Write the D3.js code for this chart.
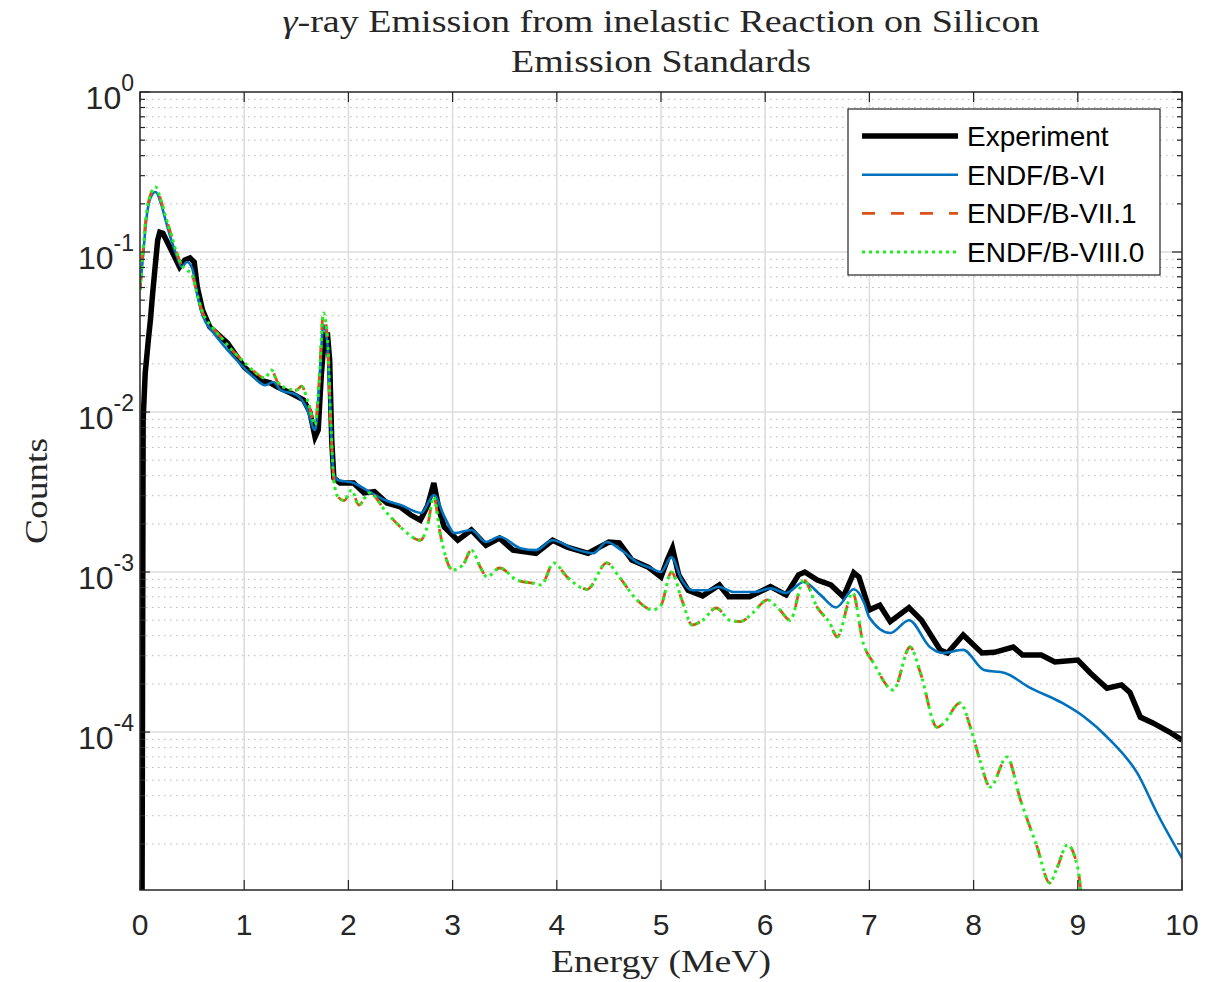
<!DOCTYPE html>
<html>
<head>
<meta charset="utf-8">
<script src="https://cdn.jsdelivr.net/npm/d3@7"></script>
<style>
  body { margin: 0; background: #fff; }
  svg { display: block; }
</style>
</head>
<body>
<svg id="chart" width="1220" height="982"></svg>
<script>
// Experiment (black)
let expEnergy = [0.00, 0.02, 0.03, 0.05, 0.08, 0.10, 0.12, 0.145, 0.17, 0.19, 0.22, 0.30, 0.38, 0.43, 0.48, 0.52, 0.55, 0.60, 0.67, 0.84,
  1.00, 1.15, 1.25, 1.32, 1.45, 1.57, 1.63, 1.68, 1.71, 1.74, 1.77, 1.80, 1.82, 1.84, 1.86, 1.92,
  2.05, 2.15, 2.25, 2.37, 2.50, 2.60, 2.69, 2.76, 2.82, 2.87, 2.92, 3.05, 3.18, 3.32, 3.45, 3.58, 3.80, 3.96,
  4.10, 4.30, 4.50, 4.60, 4.72, 4.88, 5.00, 5.06, 5.11, 5.17, 5.26, 5.40, 5.56, 5.65, 5.85, 6.05, 6.20, 6.32,
  6.38, 6.50, 6.63, 6.75, 6.85, 6.90, 7.00, 7.10, 7.20, 7.38, 7.50, 7.68, 7.75, 7.90, 8.08, 8.20, 8.38, 8.47,
  8.65, 8.78, 9.00, 9.12, 9.28, 9.42, 9.50, 9.60, 9.72, 9.88, 10.0];
let expCounts = [1.05e-5, 1.05e-5, 8.9e-3, 0.0175, 0.0282, 0.0376, 0.0539, 0.0806, 0.119, 0.133, 0.131, 0.103, 0.0806, 0.0891, 0.0917, 0.0866, 0.0604, 0.0434, 0.034, 0.027,
  0.0191, 0.0158, 0.0152, 0.0143, 0.0131, 0.0119, 0.0100, 0.00698, 0.0077, 0.0170, 0.0303, 0.0303, 0.0211, 0.00668, 0.00387, 0.0036,
  0.0036, 0.00312, 0.00318, 0.0027, 0.00255, 0.00227, 0.00211, 0.0026, 0.0036, 0.00245, 0.00191, 0.00158, 0.00183, 0.00147, 0.00163, 0.00137, 0.00131, 0.00158,
  0.00143, 0.00131, 0.00154, 0.00152, 0.00119, 0.00107, 0.00093, 0.00119, 0.00141, 0.00096, 0.00077, 0.00071, 0.00083, 0.00070, 0.00070, 0.00081, 0.00072, 0.00096,
  0.00100, 0.00089, 0.00083, 0.00070, 0.00099, 0.00093, 0.00058, 0.00062, 0.00049, 0.00060, 0.00050, 0.000326, 0.000312, 0.000404, 0.000312, 0.000315, 0.00034, 0.000303,
  0.000303, 0.000274, 0.000282, 0.000234, 0.000188, 0.000197, 0.000177, 0.000124, 0.000114, 0.000100, 0.0000891];

// ENDF/B-VI (blue)
let b6Energy = [0.00, 0.03, 0.06, 0.10, 0.15, 0.20, 0.25, 0.30, 0.35, 0.40, 0.45, 0.50, 0.55, 0.60, 0.70, 0.80, 0.90,
  1.00, 1.10, 1.20, 1.28, 1.35, 1.50, 1.60, 1.68, 1.72, 1.76, 1.80, 1.83, 1.86, 1.90,
  2.05, 2.20, 2.35, 2.50, 2.70, 2.82, 2.92, 3.02, 3.18, 3.32, 3.45, 3.65, 3.80, 3.96,
  4.15, 4.35, 4.48, 4.62, 4.78, 4.90, 5.00, 5.10, 5.20, 5.30, 5.45, 5.55, 5.70, 5.90,
  6.05, 6.20, 6.37, 6.53, 6.68, 6.85, 6.95, 7.00, 7.20, 7.38, 7.58, 7.70, 7.90,
  8.10, 8.30, 8.53, 8.85, 9.05, 9.31, 9.57, 9.76, 10.0];
let b6Counts = [0.0579, 0.0958, 0.158, 0.2175, 0.237, 0.202, 0.154, 0.119, 0.0958, 0.0806, 0.0866, 0.0794, 0.0539, 0.0404, 0.0316, 0.0262, 0.0221,
  0.0188, 0.0163, 0.0147, 0.0154, 0.0137, 0.0128, 0.0106, 0.00772, 0.0147, 0.035, 0.0262, 0.0089, 0.00404, 0.00376,
  0.0036, 0.00318, 0.00282, 0.00262, 0.00234, 0.00303, 0.00223, 0.00175, 0.00183, 0.00154, 0.00166, 0.00141, 0.00137, 0.00158,
  0.00141, 0.00131, 0.00154, 0.00137, 0.00114, 0.00106, 0.00100, 0.00124, 0.00089, 0.00077, 0.00077, 0.00081, 0.00075, 0.00075,
  0.00079, 0.00074, 0.000866, 0.00072, 0.00060, 0.00078, 0.00064, 0.00052, 0.000416, 0.00050, 0.00034, 0.000312, 0.000326,
  0.000244, 0.000234, 0.000191, 0.000152, 0.000126, 0.0000891, 0.0000555, 0.0000312, 0.0000163];

// ENDF/B-VII.1 (red dashed) and ENDF/B-VIII.0 (green dotted) lie on top of each other
let b71Energy = [0.00, 0.03, 0.06, 0.10, 0.15, 0.20, 0.25, 0.30, 0.35, 0.40, 0.45, 0.50, 0.55, 0.60, 0.70, 0.80, 0.90,
  1.00, 1.10, 1.20, 1.26, 1.32, 1.40, 1.50, 1.55, 1.62, 1.68, 1.72, 1.76, 1.80, 1.83, 1.86, 1.90, 1.96,
  2.03, 2.10, 2.20, 2.37, 2.50, 2.69, 2.76, 2.82, 2.88, 3.00, 3.10, 3.18, 3.27, 3.33, 3.45, 3.62, 3.78, 3.85, 3.97,
  4.10, 4.29, 4.48, 4.60, 4.77, 4.92, 5.00, 5.10, 5.20, 5.30, 5.40, 5.53, 5.66, 5.76, 5.88,
  6.02, 6.14, 6.24, 6.37, 6.50, 6.62, 6.69, 6.84, 6.94, 7.04, 7.23, 7.39, 7.49, 7.65, 7.71, 7.87, 7.97,
  8.06, 8.16, 8.32, 8.45, 8.61, 8.73, 8.80, 8.90, 9.00, 9.03];
let b71Counts = [0.058, 0.103, 0.17, 0.227, 0.255, 0.211, 0.163, 0.128, 0.100, 0.083, 0.0772, 0.0718, 0.0539, 0.0422, 0.0335, 0.0282, 0.0237,
  0.0205, 0.0178, 0.0163, 0.0183, 0.0154, 0.0141, 0.0137, 0.0145, 0.0111, 0.0083, 0.0158, 0.0416, 0.0282, 0.0089, 0.00376, 0.00294, 0.0028,
  0.00325, 0.00262, 0.00312, 0.00234, 0.00191, 0.00158, 0.00196, 0.00294, 0.00175, 0.00103, 0.00111, 0.00137, 0.00106, 0.00093, 0.00106, 0.00089, 0.00085, 0.00083, 0.00114,
  0.00093, 0.00078, 0.00114, 0.00093, 0.000668, 0.00058, 0.00062, 0.00100, 0.00067, 0.000467, 0.00050, 0.000596, 0.00050, 0.00049, 0.000555,
  0.00067, 0.00058, 0.00050, 0.00089, 0.00060, 0.00048, 0.000393, 0.00074, 0.00036, 0.00027, 0.000183, 0.00034, 0.000234, 0.000107, 0.000113, 0.000152, 0.000107,
  0.0000668, 0.0000453, 0.0000698, 0.0000376, 0.0000191, 0.0000114, 0.0000141, 0.0000197, 0.0000141, 0.0000100];
let b80Energy = b71Energy.slice();
let b80Counts = b71Counts.slice();

let seriesNames = ["Experiment", "ENDF/B-VI", "ENDF/B-VII.1", "ENDF/B-VIII.0"];
let xTicks = [0, 1, 2, 3, 4, 5, 6, 7, 8, 9, 10];
let yTickExps = [0, -1, -2, -3, -4];

var svg = d3.select("#chart");
var margin = { left: 140, right: 38, top: 92, bottom: 92 };
var width = 1220 - margin.left - margin.right;
var height = 982 - margin.top - margin.bottom;

var x = d3.scaleLinear().domain([0, 10]).range([0, width]);
var y = d3.scaleLog().domain([1.03e-5, 1]).range([height, 0]);

var g = svg.append("g").attr("transform", "translate(" + margin.left + "," + margin.top + ")");

// minor grid (dotted)
var minorVals = [];
for (var k = -5; k < 0; k++) {
  for (var j = 2; j <= 9; j++) {
    var v = j * Math.pow(10, k);
    if (v > y.domain()[0] && v < 1) minorVals.push(v);
  }
}
g.append("g")
  .selectAll("line")
  .data(minorVals)
  .enter()
  .append("line")
  .attr("x1", 0)
  .attr("x2", width)
  .attr("y1", function (d) { return y(d); })
  .attr("y2", function (d) { return y(d); })
  .attr("stroke", "#b8b8b8")
  .attr("stroke-width", 1)
  .attr("stroke-dasharray", "1.5,4.5");

// major grid
g.append("g")
  .selectAll("line")
  .data(xTicks.slice(1, -1))
  .enter()
  .append("line")
  .attr("x1", function (d) { return x(d); })
  .attr("x2", function (d) { return x(d); })
  .attr("y1", 0)
  .attr("y2", height)
  .attr("stroke", "#dcdcdc")
  .attr("stroke-width", 1.5);
g.append("g")
  .selectAll("line")
  .data(yTickExps.slice(1))
  .enter()
  .append("line")
  .attr("x1", 0)
  .attr("x2", width)
  .attr("y1", function (d) { return y(Math.pow(10, d)); })
  .attr("y2", function (d) { return y(Math.pow(10, d)); })
  .attr("stroke", "#dcdcdc")
  .attr("stroke-width", 1.5);

// clip
svg.append("defs").append("clipPath").attr("id", "plotclip")
  .append("rect").attr("x", 0).attr("y", 0).attr("width", width).attr("height", height);

var lines = g.append("g").attr("clip-path", "url(#plotclip)");

function pts(es, cs) {
  return es.map(function (e, i) { return [e, cs[i]]; });
}
var lineLin = d3.line()
  .x(function (d) { return x(d[0]); })
  .y(function (d) { return y(Math.max(d[1], 1e-6)); });
var lineSmooth = d3.line()
  .curve(d3.curveMonotoneX)
  .x(function (d) { return x(d[0]); })
  .y(function (d) { return y(Math.max(d[1], 1e-6)); });

var styles = [
  { color: "#000000", width: 5.5, dash: null },
  { color: "#0072BD", width: 2.6, dash: null },
  { color: "#D95319", width: 2.8, dash: "13,16" },
  { color: "#1ff01f", width: 3, dash: "3,4" }
];

lines.append("path")
  .attr("d", lineLin(pts(expEnergy, expCounts)))
  .attr("fill", "none").attr("stroke", styles[0].color)
  .attr("stroke-width", styles[0].width).attr("stroke-linejoin", "miter");
lines.append("path")
  .attr("d", lineSmooth(pts(b6Energy, b6Counts)))
  .attr("fill", "none").attr("stroke", styles[1].color)
  .attr("stroke-width", styles[1].width);
lines.append("path")
  .attr("d", lineSmooth(pts(b71Energy, b71Counts)))
  .attr("fill", "none").attr("stroke", styles[2].color)
  .attr("stroke-width", styles[2].width).attr("stroke-dasharray", styles[2].dash);
lines.append("path")
  .attr("d", lineSmooth(pts(b80Energy, b80Counts)))
  .attr("fill", "none").attr("stroke", styles[3].color)
  .attr("stroke-width", styles[3].width).attr("stroke-dasharray", styles[3].dash);

// axes box
g.append("rect")
  .attr("x", 0).attr("y", 0).attr("width", width).attr("height", height)
  .attr("fill", "none").attr("stroke", "#262626").attr("stroke-width", 1.5);

// ticks (inward, both sides)
var tickG = g.append("g").attr("stroke", "#262626").attr("stroke-width", 1.2);
xTicks.forEach(function (t) {
  tickG.append("line").attr("x1", x(t)).attr("x2", x(t)).attr("y1", height).attr("y2", height - 10);
  tickG.append("line").attr("x1", x(t)).attr("x2", x(t)).attr("y1", 0).attr("y2", 10);
});
yTickExps.forEach(function (e) {
  var yy = y(Math.pow(10, e));
  tickG.append("line").attr("x1", 0).attr("x2", 10).attr("y1", yy).attr("y2", yy);
  tickG.append("line").attr("x1", width).attr("x2", width - 10).attr("y1", yy).attr("y2", yy);
});
minorVals.forEach(function (v) {
  var yy = y(v);
  tickG.append("line").attr("x1", 0).attr("x2", 5).attr("y1", yy).attr("y2", yy);
  tickG.append("line").attr("x1", width).attr("x2", width - 5).attr("y1", yy).attr("y2", yy);
});

// tick labels
g.append("g")
  .selectAll("text")
  .data(xTicks)
  .enter()
  .append("text")
  .attr("x", function (d) { return x(d); })
  .attr("y", height + 45)
  .attr("text-anchor", "middle")
  .attr("font-family", "Liberation Sans, Arial, sans-serif")
  .attr("font-size", "30px")
  .attr("fill", "#262626")
  .text(function (d) { return d; });

var yl = g.append("g")
  .selectAll("text")
  .data(yTickExps)
  .enter()
  .append("text")
  .attr("x", -6)
  .attr("y", function (d) { return y(Math.pow(10, d)) + 17; })
  .attr("text-anchor", "end")
  .attr("font-family", "Liberation Sans, Arial, sans-serif")
  .attr("font-size", "32px")
  .attr("fill", "#262626");
yl.append("tspan").text("10");
yl.append("tspan")
  .attr("dy", -18)
  .attr("font-size", "23px")
  .text(function (d) { return d === 0 ? "0" : "-" + Math.abs(d); });

// title
var serif = "Liberation Serif, Times New Roman, serif";
var t1 = svg.append("text")
  .attr("x", margin.left + width / 2)
  .attr("y", 32)
  .attr("text-anchor", "middle")
  .attr("font-family", serif)
  .attr("font-size", "32px")
  .attr("fill", "#262626")
  .attr("textLength", 757)
  .attr("lengthAdjust", "spacingAndGlyphs");
t1.append("tspan").attr("font-style", "italic").text("γ");
t1.append("tspan").text("-ray Emission from inelastic Reaction on Silicon");
svg.append("text")
  .attr("x", margin.left + width / 2)
  .attr("y", 72)
  .attr("text-anchor", "middle")
  .attr("font-family", serif)
  .attr("font-size", "32px")
  .attr("fill", "#262626")
  .attr("textLength", 300)
  .attr("lengthAdjust", "spacingAndGlyphs")
  .text("Emission Standards");

// axis labels
svg.append("text")
  .attr("x", margin.left + width / 2)
  .attr("y", 972)
  .attr("text-anchor", "middle")
  .attr("font-family", serif)
  .attr("font-size", "32px")
  .attr("fill", "#262626")
  .attr("textLength", 220)
  .attr("lengthAdjust", "spacingAndGlyphs")
  .text("Energy (MeV)");
svg.append("text")
  .attr("transform", "translate(47," + (margin.top + height / 2) + ") rotate(-90)")
  .attr("text-anchor", "middle")
  .attr("font-family", serif)
  .attr("font-size", "32px")
  .attr("fill", "#262626")
  .attr("textLength", 106)
  .attr("lengthAdjust", "spacingAndGlyphs")
  .text("Counts");

// legend
var lg = svg.append("g").attr("transform", "translate(848,109)");
lg.append("rect")
  .attr("width", 312).attr("height", 166)
  .attr("fill", "#fff").attr("stroke", "#262626").attr("stroke-width", 1.2);
seriesNames.forEach(function (name, i) {
  var yy = 27 + i * 38.7;
  var s = styles[i];
  lg.append("line")
    .attr("x1", 14).attr("x2", 110).attr("y1", yy).attr("y2", yy)
    .attr("stroke", s.color).attr("stroke-width", s.width)
    .attr("stroke-dasharray", s.dash);
  lg.append("text")
    .attr("x", 119).attr("y", yy + 10)
    .attr("font-family", "Liberation Sans, Arial, sans-serif")
    .attr("font-size", "28px")
    .attr("fill", "#000")
    .text(name);
});
</script>
</body>
</html>
